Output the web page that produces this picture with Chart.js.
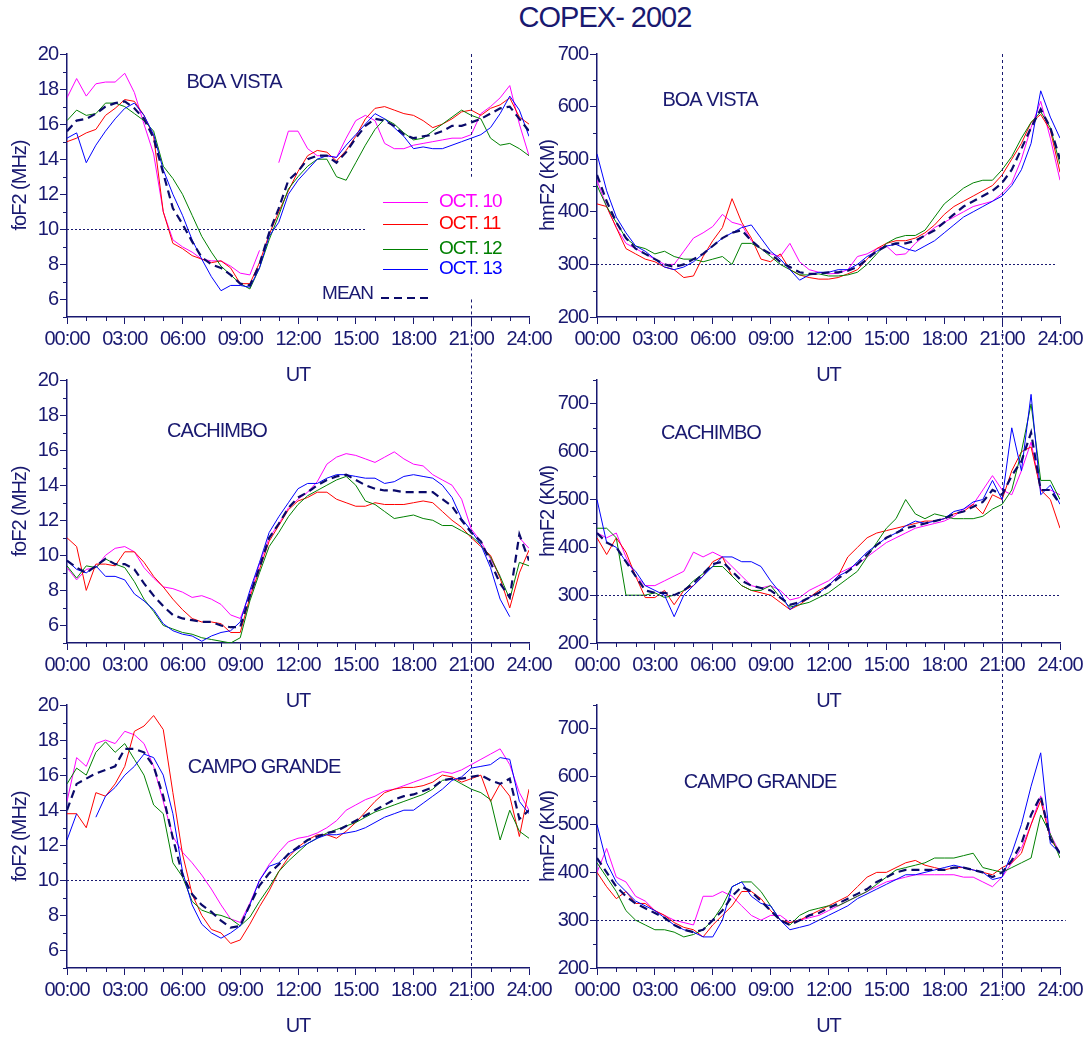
<!DOCTYPE html>
<html>
<head>
<meta charset="utf-8">
<script src="https://cdn.jsdelivr.net/npm/chart.js@4/dist/chart.umd.min.js"></script>
<style>
  html, body { margin: 0; padding: 0; background: #fff; width: 1091px; height: 1040px; overflow: hidden; }
  #title { position: absolute; left: 0; width: 1210px; top: 1px; text-align: center; letter-spacing: -1px;
           font: 29px "Liberation Sans", Arial, sans-serif; color: #191970; }
</style>
</head>
<body>
<div id="title">COPEX- 2002</div>
<script>
// UT hours, one value every 30 min
const hours = [0,0.5,1,1.5,2,2.5,3,3.5,4,4.5,5,5.5,6,6.5,7,7.5,8,8.5,9,9.5,10,10.5,11,11.5,
  12,12.5,13,13.5,14,14.5,15,15.5,16,16.5,17,17.5,18,18.5,19,19.5,20,20.5,21,21.5,22,22.5,23,23.5,24];
const days = ["OCT. 10", "OCT. 11", "OCT. 12", "OCT. 13"];

// BOA VISTA foF2 (MHz)
const bvFo10 = [17.5,18.6,17.6,18.3,18.4,18.4,18.9,17.8,16.0,14.3,11.0,9.4,9.0,8.7,8.3,8.2,
  8.2,7.9,7.5,7.4,8.8,null,13.8,15.6,15.6,14.6,14.2,14.2,14.1,15.2,16.2,16.5,
  16.2,14.9,14.6,14.6,14.8,14.9,15.0,15.1,15.2,15.2,15.4,16.6,17.0,17.5,18.2,16.0, 14.2];
const bvFo11 = [15.0,15.2,15.5,15.7,16.5,16.9,17.4,17.3,16.5,15.3,11.0,9.2,8.9,8.5,8.3,8.1,
  8.2,7.8,6.9,6.9,8.1,9.7,11.0,12.2,13.3,14.2,14.5,14.4,13.9,14.5,15.3,16.3,
  16.9,17.0,16.8,16.6,16.5,16.2,15.8,16.0,16.3,16.7,16.8,16.5,16.9,17.1,17.5,16.4, 16.0];
const bvFo12 = [16.2,16.8,16.5,16.6,17.2,17.2,17.0,16.6,16.2,15.6,13.6,12.9,12.0,10.8,9.6,8.7,
  7.9,7.4,6.9,6.6,7.8,9.4,10.8,12.3,13.0,13.6,14.0,14.0,13.0,12.8,13.8,14.8,
  15.7,16.3,16.0,15.5,15.1,15.2,15.6,16.0,16.4,16.8,16.5,16.3,15.2,14.8,14.9,14.6, 14.2];
const bvFo13 = [15.2,15.5,13.8,14.8,15.6,16.3,16.9,17.2,16.5,15.4,13.4,12.0,10.8,9.4,8.3,7.3,
  6.5,6.8,6.8,6.7,7.8,9.6,10.4,12.0,12.8,13.4,14.0,14.2,14.1,14.8,15.4,16.0,
  16.6,16.3,15.8,15.3,14.6,14.7,14.6,14.6,14.8,15.0,15.2,15.4,15.8,16.6,17.6,16.8, 15.3];
const bvFoMean = [15.6,16.2,16.3,16.6,17.0,17.2,17.3,16.9,16.3,15.2,13.2,11.2,10.3,9.3,8.4,8.0,
  7.8,7.4,6.9,6.8,8.0,9.8,11.2,12.8,13.3,14.0,14.2,14.2,13.8,14.4,15.2,15.9,
  16.3,16.2,15.9,15.4,15.2,15.3,15.4,15.6,15.9,15.9,16.1,16.3,16.6,16.9,17.0,16.3, 15.6];

// BOA VISTA hmF2 (km)
const bvHm10 = [460,410,370,340,330,320,310,300,300,325,350,360,372,395,380,375,
  345,330,320,315,340,305,290,285,282,283,290,315,320,330,335,318,
  320,340,355,370,380,390,400,410,415,420,435,455,500,560,610,540, 460];
const bvHm11 = [415,410,370,330,320,310,305,295,290,275,278,315,345,370,425,380,
  350,310,305,320,290,280,275,272,272,275,282,290,310,330,340,345,
  345,350,360,375,395,410,420,430,440,450,470,500,530,570,585,555, 475];
const bvHm12 = [450,410,380,350,335,330,320,325,315,310,310,305,310,315,300,340,
  340,330,315,300,290,280,280,282,278,278,280,285,300,320,340,350,
  355,355,365,390,415,430,445,455,460,460,480,505,540,570,590,560, 490];
const bvHm13 = [510,440,390,360,335,325,310,295,290,295,305,320,335,350,360,370,
  375,350,325,310,290,270,280,285,285,290,290,300,315,325,335,338,
  330,325,335,345,360,375,390,400,410,420,430,450,480,530,630,580, 540];
const bvHmMean = [470,420,380,350,330,320,310,300,295,300,310,320,335,350,360,365,
  345,330,320,305,295,285,282,282,285,285,288,295,310,325,335,340,
  340,345,355,365,380,395,410,420,430,440,455,480,520,560,595,560, 500];

// CACHIMBO foF2 (MHz)
const caFo10 = [9.3,8.6,9.2,9.3,10.0,10.4,10.5,10.2,9.3,8.7,8.2,8.1,7.9,7.6,7.7,7.5,
  7.2,6.6,6.4,7.8,9.5,11.0,11.8,12.7,13.2,13.6,14.2,15.2,15.6,15.8,15.7,15.5,
  15.3,15.6,15.9,15.5,15.2,15.1,14.6,14.3,14.0,13.2,11.5,10.8,9.8,8.8,null,11.0, 10.4];
const caFo11 = [11.0,10.5,8.0,9.5,9.5,9.4,10.2,10.2,9.6,8.8,8.2,7.5,6.9,6.4,6.2,6.2,
  6.1,5.6,5.6,7.6,9.2,10.8,11.7,12.6,13.1,13.3,13.6,13.6,13.2,13.0,12.8,12.8,
  13.0,12.9,12.9,12.9,13.0,13.1,13.0,12.5,12.0,11.6,11.0,10.5,10.0,8.7,7.0,9.0, 10.3];
const caFo12 = [9.4,8.7,9.4,9.3,9.8,9.5,9.3,8.5,7.5,6.8,6.0,5.8,5.6,5.5,5.3,5.2,
  5.1,5.0,5.3,7.4,9.0,10.5,11.3,12.2,12.9,13.4,13.7,14.0,14.3,14.5,14.0,13.1,
  12.9,12.5,12.1,12.2,12.3,12.1,12.0,11.7,11.7,11.4,11.1,10.6,9.9,8.8,7.5,9.6, 9.4];
const caFo13 = [9.7,9.2,9.0,9.4,8.8,8.8,8.6,7.8,7.4,6.9,6.1,5.7,5.5,5.4,5.1,5.4,
  5.6,5.7,6.2,8.0,9.6,11.3,12.2,13.0,13.8,14.1,14.1,14.4,14.6,14.6,14.5,14.4,
  14.4,14.1,14.2,14.5,14.6,14.5,14.4,14.0,13.3,12.1,11.4,10.6,9.3,7.5,6.5,null, null];
const caFoMean = [9.7,9.3,9.0,9.4,9.8,9.5,9.5,9.2,8.4,7.7,7.1,6.6,6.4,6.3,6.2,6.2,
  6.0,5.9,5.9,7.7,9.3,11.0,11.8,12.7,13.3,13.6,14.0,14.3,14.5,14.6,14.3,14.0,
  13.8,13.7,13.7,13.6,13.6,13.6,13.6,13.2,12.8,12.0,11.3,10.8,9.6,8.4,7.6,11.2, 9.7];

// CACHIMBO hmF2 (km)
const caHm10 = [430,420,430,380,340,320,320,330,340,350,390,380,390,380,360,340,
  320,315,320,310,290,295,310,320,330,345,355,365,380,395,410,420,
  430,440,445,450,455,465,480,490,520,550,520,510,560,620,520,520, 510];
const caHm11 = [420,385,420,390,340,295,295,310,280,310,320,340,370,380,340,320,
  310,305,300,285,270,280,295,310,320,340,380,400,420,430,435,440,
  445,450,455,455,460,470,475,490,470,510,500,560,600,610,520,500, 440];
const caHm12 = [440,440,420,300,300,300,305,295,300,310,330,345,360,360,340,320,
  310,310,320,295,275,280,285,295,305,320,335,350,380,410,440,460,
  500,470,460,470,465,460,460,460,465,480,490,520,600,700,540,540, 500];
const caHm13 = [500,410,400,370,350,320,310,300,255,300,320,340,360,380,380,370,
  370,360,330,305,270,285,295,305,320,340,350,370,390,405,420,430,
  445,455,450,455,460,475,480,495,500,540,500,650,560,720,510,530, 490];
const caHmMean = [430,410,400,370,340,310,305,305,300,310,325,345,365,370,350,330,
  320,315,310,295,280,285,295,305,320,335,350,365,385,405,420,430,
  440,445,450,455,460,470,475,485,495,520,510,550,580,640,520,520, 490];

// CAMPO GRANDE foF2 (MHz)
const cgFo10 = [14.5,17.0,16.5,17.8,18.0,17.8,18.5,18.3,17.8,16.5,14.5,12.5,11.6,11.0,10.3,9.5,
  8.6,7.8,7.6,8.7,10.0,10.9,11.6,12.2,12.4,12.5,12.7,13.0,13.4,14.0,14.3,14.6,
  14.8,15.1,15.2,15.4,15.6,15.8,16.0,16.2,16.1,16.3,16.6,16.9,17.2,17.5,16.6,15.0, 14.0];
const cgFo11 = [13.8,13.8,13.0,15.0,14.8,15.5,16.5,18.5,18.8,19.4,18.6,15.0,11.5,9.2,8.0,7.2,
  7.0,6.4,6.6,7.5,8.5,9.4,10.5,11.3,11.9,12.3,12.6,12.6,12.4,12.8,13.3,13.9,
  14.5,15.0,15.2,15.3,15.3,15.4,15.6,16.0,15.9,15.6,15.8,16.0,14.5,15.5,14.8,12.5, 15.2];
const cgFo12 = [15.5,16.4,16.0,17.3,17.9,17.3,17.8,16.9,16.0,14.3,13.8,11.0,10.2,8.8,8.3,8.1,
  8.0,7.8,7.4,7.9,8.8,9.6,10.5,11.1,11.6,12.1,12.4,12.7,12.9,13.1,13.3,13.6,
  13.9,14.1,14.3,14.5,14.7,14.9,15.2,15.7,15.8,15.5,15.2,15.0,14.6,12.3,14.0,12.8, 12.4];
const cgFo13 = [12.3,13.8,null,13.6,14.8,15.3,16.0,16.5,17.2,17.0,16.0,13.8,10.5,8.6,7.5,7.0,
  6.7,7.0,7.4,8.6,10.0,10.8,11.0,11.5,11.8,12.1,12.4,12.6,12.6,12.7,12.8,13.0,
  13.3,13.6,13.8,14.0,14.0,14.4,14.8,15.2,15.7,15.9,16.4,16.5,16.6,17.0,16.9,14.5, 13.8];
const cgFoMean = [14.0,15.5,15.8,16.1,16.3,16.5,17.5,17.5,17.3,16.5,14.8,12.4,10.3,9.2,8.6,8.2,
  7.7,7.3,7.4,8.6,9.7,10.4,10.9,11.5,11.9,12.3,12.5,12.7,12.8,13.1,13.4,13.7,
  14.0,14.3,14.6,14.8,14.9,15.1,15.3,15.7,15.8,15.8,15.9,16.0,15.7,15.5,15.8,13.5, 14.0];

// CAMPO GRANDE hmF2 (km)
const cgHm10 = [400,450,390,380,350,340,320,310,300,295,290,350,350,360,350,330,
  310,300,310,310,295,300,305,310,320,330,340,350,360,370,380,385,
  390,395,395,395,395,395,390,390,380,370,390,420,450,500,560,480, 440];
const cgHm11 = [400,370,345,360,335,335,320,310,295,285,280,265,290,310,330,360,
  360,345,320,300,295,300,310,320,330,340,350,370,390,400,400,410,
  420,425,415,410,405,410,410,405,400,395,410,420,440,500,550,470, 440];
const cgHm12 = [420,390,360,320,300,290,280,280,275,265,270,280,300,330,370,380,
  380,360,330,300,290,310,320,325,330,330,340,350,360,375,390,405,
  410,415,420,430,430,430,435,440,410,405,400,410,420,430,520,480, 430];
const cgHm13 = [500,420,380,360,340,330,320,305,290,280,275,265,265,300,370,380,
  350,335,330,300,280,285,290,300,310,320,330,345,355,365,375,385,
  395,395,400,405,410,415,410,405,400,385,390,440,500,580,650,460, 440];
const cgHmMean = [430,400,370,350,335,325,315,305,290,280,275,280,300,320,350,370,
  360,340,320,300,290,300,310,315,325,335,345,355,365,380,390,400,
  405,405,405,405,405,410,410,405,400,390,400,425,460,520,560,470, 440];

const dayColors = ["#ff00ff", "#ff0000", "#008000", "#0000ff"];
const navy = "#191970";
const meanColor = "#0a0a6a";
const family = '"Liberation Sans", Arial, sans-serif';
Chart.defaults.font.family = family;

const panels = [
  { left: 0, top: 40, w: 560, kind: "fo", max: 20, titlePad: 8,
    series: [bvFo10, bvFo11, bvFo12, bvFo13], mean: bvFoMean,
    station: "BOA VISTA", label: [234, 82], hLine: [10, 0, 15.5], vExt: 62, vGap: [6, 13], legend: true },
  { left: 530, top: 40, w: 561, kind: "hm", max: 700, titlePad: 6,
    series: [bvHm10, bvHm11, bvHm12, bvHm13], mean: bvHmMean,
    station: "BOA VISTA", label: [710, 100], hLine: [300, 0, 23.8], vExt: 63 },
  { left: 0, top: 366, w: 560, kind: "fo", max: 20, titlePad: 8,
    series: [caFo10, caFo11, caFo12, caFo13], mean: caFoMean,
    station: "CACHIMBO", label: [217, 431], vExt: 61 },
  { left: 530, top: 366, w: 561, kind: "hm", max: 750, titlePad: 6,
    series: [caHm10, caHm11, caHm12, caHm13], mean: caHmMean,
    station: "CACHIMBO", label: [711, 433], hLine: [300, 0, 24], vExt: 61 },
  { left: 0, top: 691, w: 560, kind: "fo", max: 20, titlePad: 8,
    series: [cgFo10, cgFo11, cgFo12, cgFo13], mean: cgFoMean,
    station: "CAMPO GRANDE", label: [264, 767], hLine: [10, 0, 24], vExt: 32 },
  { left: 530, top: 691, w: 561, kind: "hm", max: 750, titlePad: 6,
    series: [cgHm10, cgHm11, cgHm12, cgHm13], mean: cgHmMean,
    station: "CAMPO GRANDE", label: [760, 782], hLine: [300, 0, 24.3], vExt: 32 }
];

// labelled ticks get the long tick mark, the others a short one drawn below
const isMajorX = v => v % 3 === 0;
const isMajorY = (kind, v) => (kind === "fo" ? v % 2 === 0 && v >= 6 : v % 100 === 0);

const panelExtras = {
  id: "panelExtras",
  beforeDraw(chart) {
    chart.ctx.letterSpacing = "-1px";
  },
  afterDatasetsDraw(chart, args, o) {
    const { ctx, chartArea: a, scales: { x, y } } = chart;
    ctx.save();
    ctx.strokeStyle = navy;
    ctx.lineWidth = 1;
    // minor tick marks
    ctx.beginPath();
    x.ticks.forEach(t => {
      if (isMajorX(t.value)) return;
      const px = Math.round(x.getPixelForValue(t.value)) + 0.5;
      ctx.moveTo(px, a.bottom);
      ctx.lineTo(px, a.bottom + 4);
    });
    y.ticks.forEach(t => {
      if (isMajorY(o.kind, t.value)) return;
      const py = Math.round(y.getPixelForValue(t.value)) + 0.5;
      ctx.moveTo(a.left, py);
      ctx.lineTo(a.left - 4, py);
    });
    ctx.stroke();
    if (o.hLine) {
      ctx.setLineDash([2, 2]);
      const py = Math.round(y.getPixelForValue(o.hLine[0])) + 0.5;
      ctx.beginPath();
      ctx.moveTo(x.getPixelForValue(o.hLine[1]), py);
      ctx.lineTo(x.getPixelForValue(o.hLine[2]), py);
      ctx.stroke();
    }
    ctx.setLineDash([3, 3]);
    const px = Math.round(x.getPixelForValue(21)) + 0.5;
    ctx.beginPath();
    if (o.vGap) {
      ctx.moveTo(px, a.top);
      ctx.lineTo(px, y.getPixelForValue(o.vGap[1]));
      ctx.moveTo(px, y.getPixelForValue(o.vGap[0]));
    } else {
      ctx.moveTo(px, a.top);
    }
    ctx.lineTo(px, a.bottom + o.vExt);
    ctx.stroke();
    ctx.restore();
  },
  afterDraw(chart, args, o) {
    const ctx = chart.ctx;
    ctx.save();
    ctx.letterSpacing = "-1px";
    ctx.textBaseline = "middle";
    ctx.font = "20px " + family;
    ctx.fillStyle = navy;
    ctx.textAlign = "center";
    ctx.fillText(o.station, o.label[0] - o.left, o.label[1] - o.top);
    if (o.legend) {
      ctx.font = "19px " + family;
      ctx.textAlign = "left";
      const rows = [202, 224, 249, 269];
      days.forEach((d, i) => {
        const yy = rows[i] - o.top;
        ctx.strokeStyle = dayColors[i];
        ctx.lineWidth = 1;
        ctx.beginPath();
        ctx.moveTo(383, yy + 0.5);
        ctx.lineTo(428, yy + 0.5);
        ctx.stroke();
        ctx.fillStyle = dayColors[i];
        ctx.fillText(d, 439, yy);
      });
      ctx.fillStyle = navy;
      ctx.textAlign = "right";
      ctx.fillText("MEAN", 373, 294 - o.top);
      ctx.strokeStyle = meanColor;
      ctx.lineWidth = 2;
      ctx.setLineDash([8, 5]);
      ctx.beginPath();
      ctx.moveTo(381, 298 - o.top);
      ctx.lineTo(432, 298 - o.top);
      ctx.stroke();
    }
    ctx.restore();
  }
};

function pts(values) {
  return hours.map((h, i) => ({ x: h, y: values[i] }));
}

panels.forEach(p => {
  const cv = document.createElement("canvas");
  cv.width = p.w;
  cv.height = 352;
  cv.style.cssText = `position:absolute;left:${p.left}px;top:${p.top}px;width:${p.w}px;height:352px;`;
  document.body.appendChild(cv);

  const datasets = p.series.map((s, i) => ({
    label: days[i], data: pts(s), borderColor: dayColors[i], borderWidth: 1, order: 4 - i
  }));
  datasets.push({
    label: "MEAN", data: pts(p.mean), borderColor: meanColor, borderWidth: 2.2,
    borderDash: [8, 5], order: 0
  });

  const isFo = p.kind === "fo";
  new Chart(cv, {
    type: "line",
    data: { datasets },
    options: {
      responsive: false,
      animation: false,
      events: [],
      layout: { padding: { top: 13, right: 31, bottom: 5, left: 0 } },
      elements: { point: { radius: 0 }, line: { tension: 0 } },
      plugins: {
        legend: { display: false },
        tooltip: { enabled: false },
        panelExtras: { ...p }
      },
      scales: {
        x: {
          type: "linear", min: 0, max: 24,
          afterFit: s => { s.height = 70; },
          border: { color: navy, width: 1.5 },
          grid: {
            drawOnChartArea: false, drawTicks: true, tickLength: 7, color: navy,
            tickColor: c => (c.tick && isMajorX(c.tick.value) ? navy : "rgba(0,0,0,0)")
          },
          ticks: {
            stepSize: 1, autoSkip: false, maxRotation: 0, padding: 3, color: navy,
            font: { size: 20 },
            callback: v => (isMajorX(v) ? String(v).padStart(2, "0") + ":00" : "")
          },
          title: { display: true, text: "UT", color: navy, font: { size: 20 }, padding: { top: 0, bottom: 0 } }
        },
        y: {
          type: "linear",
          min: isFo ? 5 : 200, max: p.max,
          afterFit: s => { s.width = 67; },
          border: { color: navy, width: 1.5 },
          grid: {
            drawOnChartArea: false, drawTicks: true, tickLength: 7, color: navy,
            tickColor: c => (c.tick && isMajorY(p.kind, c.tick.value) ? navy : "rgba(0,0,0,0)")
          },
          ticks: {
            stepSize: isFo ? 1 : 50, autoSkip: false, padding: 2, color: navy,
            font: { size: 20 },
            callback: v => (isMajorY(p.kind, v) ? v : "")
          },
          title: {
            display: true, text: isFo ? "foF2 (MHz)" : "hmF2 (KM)", color: navy,
            font: { size: 20 }, padding: { top: p.titlePad, bottom: 0 }
          }
        }
      }
    },
    plugins: [panelExtras]
  });
});
</script>
</body>
</html>
